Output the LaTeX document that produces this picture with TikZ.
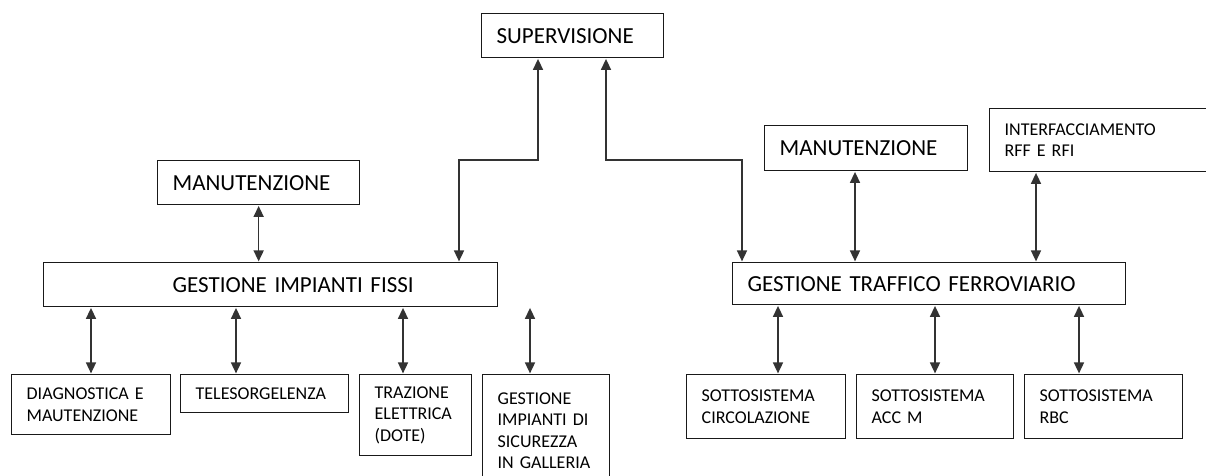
\documentclass[tikz,border=0pt]{standalone}
\usepackage{fontspec}
\setmainfont{Carlito}[WordSpace=0.65]
\usetikzlibrary{arrows.meta}
\tikzset{
  box/.style={draw=black!90, line width=1.3pt, rectangle, inner xsep=15pt, inner ysep=0pt, align=left, fill=white},
  conn/.style={draw=black!80, line width=1.6pt, {Triangle[length=11pt,width=10pt]}-{Triangle[length=11pt,width=10pt]}, shorten <=0.6pt, shorten >=0.6pt},
  big/.style={font=\fontsize{23}{26}\selectfont},
  small/.style={font=\fontsize{18}{21.5}\selectfont}
}
\newcommand{\bxnode}[7]{%
  \pgfmathsetmacro\bxw{#4-#2-30}%
  \pgfmathsetmacro\bxh{#5-#3}%
  \node[box, #6, text width=\bxw pt, minimum height=\bxh pt, anchor=north west] (#1) at (#2,#3) {#7};}
\begin{document}
\begin{tikzpicture}[x=1pt,y=-1pt]
\useasboundingbox (0,0) rectangle (1206,475);
\fill[white] (0,0) rectangle (1206,475);
\clip (0,0) rectangle (1206,475);
% top level
\bxnode{sup}{481}{13}{663}{57}{big}{SUPERVISIONE}
\bxnode{manL}{157}{160}{359}{204}{big}{MANUTENZIONE}
\bxnode{gif}{43}{262}{497}{306}{big}{\hspace*{114pt}GESTIONE IMPIANTI FISSI}
\bxnode{manR}{764}{125}{967}{170}{big}{MANUTENZIONE}
\bxnode{intf}{989}{108}{1215}{171}{small}{INTERFACCIAMENTO\\RFF E RFI}
\bxnode{gtf}{732}{262}{1125}{304}{big}{GESTIONE TRAFFICO FERROVIARIO}
% bottom left
\bxnode{diag}{11}{374}{170}{434}{small}{DIAGNOSTICA E\\MAUTENZIONE}
\bxnode{tele}{180}{374}{348}{412}{small}{TELESORGELENZA}
\bxnode{traz}{359}{374}{471}{455}{small}{TRAZIONE\\ELETTRICA\\(DOTE)}
\bxnode{gest}{482}{374}{609}{486}{small}{GESTIONE\\IMPIANTI DI\\SICUREZZA\\IN GALLERIA}
% bottom right
\bxnode{circ}{686}{374}{845}{438}{small}{SOTTOSISTEMA\\CIRCOLAZIONE}
\bxnode{acc}{856}{374}{1013}{438}{small}{SOTTOSISTEMA\\ACC M}
\bxnode{rbc}{1024}{374}{1182}{438}{small}{SOTTOSISTEMA\\RBC}
% routing coordinates
\coordinate (k1) at (538,160);
\coordinate (k2) at (459,160);
\coordinate (k3) at (606,160);
\coordinate (k4) at (742,160);
\coordinate (xmr) at (855,0);
\coordinate (xin) at (1036,0);
\coordinate (xd) at (91,0);
\coordinate (xt) at (236,0);
\coordinate (xe) at (403,0);
\coordinate (xg) at (530,0);
\coordinate (xc) at (778,0);
\coordinate (xa) at (935,0);
\coordinate (xr) at (1079,0);
% connectors
\draw[conn] (sup.south -| k1) -- (k1) -- (k2) -- (gif.north -| k2);
\draw[conn] (sup.south -| k3) -- (k3) -- (k4) -- (gtf.north -| k4);
\draw[conn] (manL.south) -- (manL.south |- gif.north);
\draw[conn] (manR.south -| xmr) -- (gtf.north -| xmr);
\draw[conn] (intf.south -| xin) -- (gtf.north -| xin);
\draw[conn] (gif.south -| xd) -- (diag.north -| xd);
\draw[conn] (gif.south -| xt) -- (tele.north -| xt);
\draw[conn] (gif.south -| xe) -- (traz.north -| xe);
\draw[conn] (gif.south -| xg) -- (gest.north -| xg);
\draw[conn] (gtf.south -| xc) -- (circ.north -| xc);
\draw[conn] (gtf.south -| xa) -- (acc.north -| xa);
\draw[conn] (gtf.south -| xr) -- (rbc.north -| xr);
\end{tikzpicture}
\end{document}
